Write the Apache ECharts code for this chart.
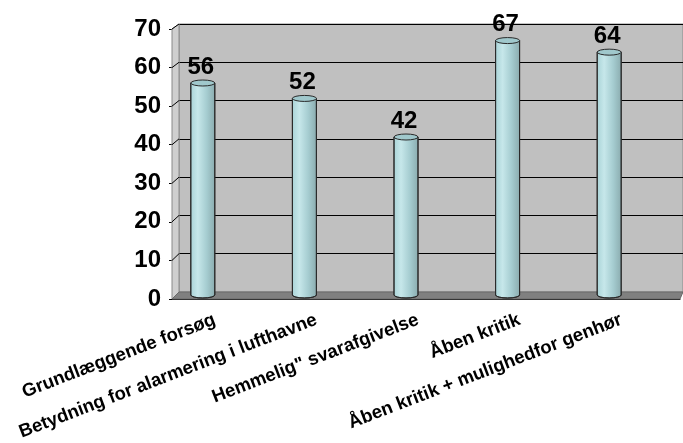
<!DOCTYPE html>
<html>
<head>
<meta charset="utf-8">
<script src="https://cdn.jsdelivr.net/npm/echarts@6/dist/echarts.min.js"></script>
<style>html,body{margin:0;padding:0;background:#fff;}#c{width:683px;height:443px;}</style>
</head>
<body>
<div id="c"></div>
<script>
const categories = ['Grundlæggende forsøg', 'Betydning for alarmering i lufthavne', 'Hemmelig" svarafgivelse', 'Åben kritik', 'Åben kritik + mulighedfor genhør'];
const values = [56, 52, 42, 67, 64];
const yMin = 0, yMax = 70, yStep = 10;

const FONT = '"Liberation Sans", Arial, sans-serif';
const chart = echarts.init(document.getElementById('c'), null, {renderer: 'canvas'});

const cylGrad = new echarts.graphic.LinearGradient(0, 0, 1, 0, [
  {offset: 0, color: '#a9d3d7'},
  {offset: 0.3, color: '#c6e7ea'},
  {offset: 0.65, color: '#a6cdd1'},
  {offset: 1, color: '#8aabae'}
]);

function renderCyl(params, api) {
  const v = api.value(1);
  const top = api.coord([api.value(0), v]);
  const base = api.coord([api.value(0), 0]);
  const rx = 12, ry = 3;
  const x0 = top[0] - rx, x1 = top[0] + rx;
  const yT = top[1], yB = base[1] - 4;
  return {
    type: 'group',
    children: [
      {type: 'path', shape: {pathData: `M${x0} ${yT} L${x0} ${yB} A${rx} ${ry} 0 0 0 ${x1} ${yB} L${x1} ${yT} Z`},
       style: {fill: cylGrad, stroke: '#2a2a2a', lineWidth: 1}},
      {type: 'path', shape: {pathData: `M${x0} ${yT} A${rx} ${ry} 0 1 0 ${x1} ${yT} A${rx} ${ry} 0 1 0 ${x0} ${yT} Z`},
       style: {fill: '#a0c8cc', stroke: '#2a2a2a', lineWidth: 1}},
      {type: 'text', style: {text: String(v), x: top[0] - 2, y: yT - 4, align: 'center', verticalAlign: 'bottom',
        font: 'bold 24px ' + FONT, fill: '#000'}}
    ]
  };
}

const option = {
  animation: false,
  grid: [
    {left: 179, right: 0, top: 24, bottom: 151, show: true, backgroundColor: '#c0c0c0', borderColor: '#8a8a8a', borderWidth: 1},
    {left: 172, right: 3, top: 29, bottom: 144},
    {left: 152, right: 23, top: 29, bottom: 144},
    {left: 164, right: 11, top: 29, bottom: 144}
  ],
  xAxis: [
    {gridIndex: 0, type: 'category', data: categories, show: false},
    {gridIndex: 1, type: 'category', data: categories,
     axisLine: {lineStyle: {color: '#000', width: 1}}, axisTick: {length: 5, lineStyle: {color: '#000'}},
     axisLabel: {show: false}},
    {gridIndex: 2, type: 'category', data: categories, show: false},
    {gridIndex: 3, type: 'category', data: categories, axisLine: {show: false}, axisTick: {show: false},
     axisLabel: {rotate: 21, margin: 28, interval: 0, fontSize: 18.5, fontWeight: 'bold', fontFamily: FONT, color: '#000'}}
  ],
  yAxis: [
    {gridIndex: 0, type: 'value', min: yMin, max: yMax, interval: yStep, axisLabel: {show: false},
     axisLine: {show: false}, axisTick: {show: false}, splitLine: {lineStyle: {color: '#000', width: 1}}},
    {gridIndex: 1, type: 'value', min: yMin, max: yMax, interval: yStep,
     axisLine: {show: true, lineStyle: {color: '#000'}}, axisTick: {show: true, length: 3, lineStyle: {color: '#000'}},
     splitLine: {show: false},
     axisLabel: {margin: 11, fontSize: 24, fontWeight: 'bold', fontFamily: FONT, color: '#000'}},
    {gridIndex: 2, type: 'value', min: yMin, max: yMax, interval: yStep, show: false},
    {gridIndex: 3, type: 'value', min: yMin, max: yMax, interval: yStep, show: false}
  ],
  series: [{
    type: 'custom', xAxisIndex: 2, yAxisIndex: 2, z: 10,
    renderItem: renderCyl,
    data: values.map((v, i) => [i, v])
  }]
};
chart.setOption(option);

// 3D side wall and floor, computed from the axes
const ticks = [];
for (let v = yMin; v <= yMax; v += yStep) ticks.push(v);
const axisX = 172, wallX = 179, rightEdge = 683;
const y0Front = chart.convertToPixel({yAxisIndex: 1}, 0);
const y0Back = chart.convertToPixel({yAxisIndex: 0}, 0);
const yTopFront = chart.convertToPixel({yAxisIndex: 1}, yMax);
const yTopBack = chart.convertToPixel({yAxisIndex: 0}, yMax);
const g = [];
g.push({type: 'polygon', z: 1, shape: {points: [[axisX, yTopFront], [wallX, yTopBack], [wallX, y0Back], [axisX, y0Front]]},
  style: {fill: '#cfcfcf', stroke: '#8a8a8a', lineWidth: 1}});
ticks.forEach(v => {
  g.push({type: 'line', z: 2, shape: {x1: axisX, y1: chart.convertToPixel({yAxisIndex: 1}, v), x2: wallX, y2: chart.convertToPixel({yAxisIndex: 0}, v)},
    style: {stroke: '#000', lineWidth: 1}});
});
g.push({type: 'polygon', z: 3, shape: {points: [[axisX, y0Front], [wallX, y0Back], [rightEdge, y0Back], [rightEdge - 3, y0Front]]},
  style: {fill: '#808080', stroke: '#6a6a6a', lineWidth: 1}});
chart.setOption({graphic: g});
</script>
</body>
</html>
